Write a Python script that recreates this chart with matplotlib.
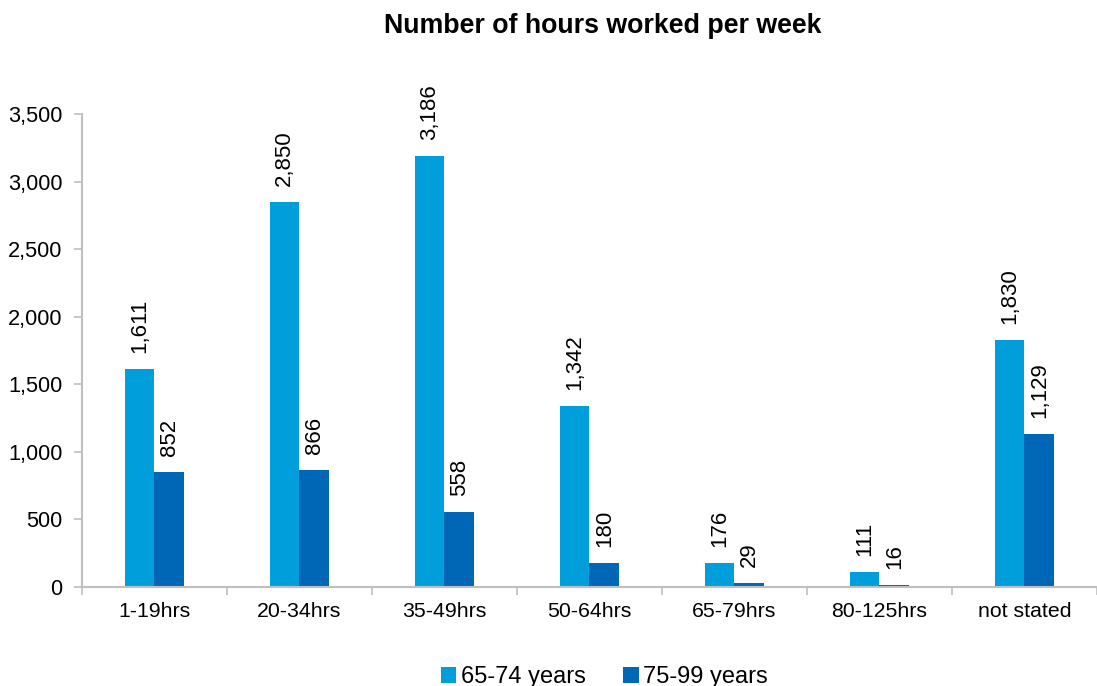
import numpy as np
import matplotlib
matplotlib.use('Agg')
import matplotlib.pyplot as plt
from matplotlib.ticker import FuncFormatter

plt.rcParams['font.family'] = ['Liberation Sans', 'DejaVu Sans']

categories = ['1-19hrs', '20-34hrs', '35-49hrs', '50-64hrs', '65-79hrs', '80-125hrs', 'not stated']
age_65_74 = [1611, 2850, 3186, 1342, 176, 111, 1830]
age_75_99 = [852, 866, 558, 180, 29, 16, 1129]
series_names = ['65-74 years', '75-99 years']
colors = ['#009EDB', '#0067B6']

fig = plt.figure(figsize=(10.97, 6.86), dpi=100)
ax = fig.add_axes([0.0747, 0.1443, 0.9253, 0.6895])

x = np.arange(len(categories))
w = 0.205
bars1 = ax.bar(x - w / 2, age_65_74, w, color=colors[0], label=series_names[0])
bars2 = ax.bar(x + w / 2, age_75_99, w, color=colors[1], label=series_names[1])

for bars in (bars1, bars2):
    for b in bars:
        v = b.get_height()
        ax.annotate(f'{int(v):,}', (b.get_x() + b.get_width() / 2, v),
                    xytext=(0, 11.5), textcoords='offset points',
                    rotation=90, ha='center', va='bottom', fontsize=16)

ax.set_xlim(-0.5, len(categories) - 0.5)
ax.set_ylim(0, 3500)
ax.set_yticks(np.arange(0, 3501, 500))
ax.yaxis.set_major_formatter(FuncFormatter(lambda v, p: f'{int(v):,}'))
ax.set_xticks(x)
ax.set_xticklabels(categories)
ax.set_xticks(np.arange(-0.5, len(categories), 1), minor=True)
ax.tick_params(axis='x', which='major', length=0, pad=11, labelsize=15.3)
ax.tick_params(axis='x', which='minor', length=6, color='#BFBFBF', width=1.2)
ax.tick_params(axis='y', length=6, color='#BFBFBF', width=1.2, labelsize=15.7, pad=8)

for s in ['top', 'right']:
    ax.spines[s].set_visible(False)
for s in ['left', 'bottom']:
    ax.spines[s].set_color('#BFBFBF')
    ax.spines[s].set_linewidth(1.5)

fig.text(0.549, 0.962, 'Number of hours worked per week', ha='center', va='center',
         fontsize=19.3, fontweight='bold')

fig.legend(loc='center', bbox_to_anchor=(0.551, 0.013), ncol=2, frameon=False,
           fontsize=17, handlelength=0.65, handleheight=0.65, handletextpad=0.2,
           columnspacing=1.6)

fig.savefig('out.png', dpi=100)
